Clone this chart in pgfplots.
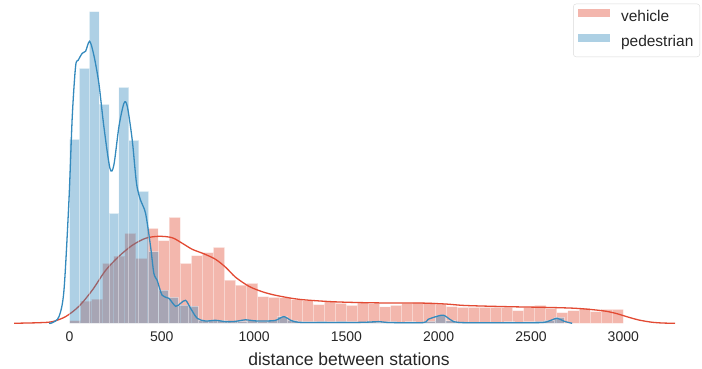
\documentclass[border=0pt]{standalone}
\usepackage{fontspec}
\setmainfont{Liberation Sans}
\usepackage{pgfplots}
\pgfplotsset{compat=1.18}
\definecolor{blueC}{HTML}{348ABD}
\definecolor{redC}{HTML}{E24A33}
\definecolor{txt}{RGB}{38,38,38}
\begin{document}
\begin{tikzpicture}
\path[use as bounding box] (0pt,-44.7pt) rectangle (702pt,323.3pt);
\begin{axis}[
  at={(0pt,0pt)}, anchor=south west,
  scale only axis, width=698pt, height=323.3pt,
  xmin=-376.5, xmax=3404.6, ymin=0, ymax=323.3,
  clip=false,
  axis line style={draw=none},
  tick style={draw=none},
  ytick=\empty,
  xtick={0,500,1000,1500,2000,2500,3000},
  xticklabels={0,500,1000,1500,2000,2500,3000},
  xticklabel style={font=\fontsize{14}{16}\selectfont, text=txt, anchor=base, yshift=-18.4pt},
  xlabel={distance between stations},
  xlabel style={at={(axis description cs:0.5,0)}, anchor=base, yshift=-42.4pt, font=\fontsize{17.5}{20}\selectfont, text=txt},
  legend style={at={(axis description cs:1.003,0.9887)}, anchor=north east, draw=black!15, rounded corners=3pt, fill=white, fill opacity=0.8, text opacity=1, inner sep=4.5pt, font=\fontsize{15.5}{18}\selectfont, text=txt, row sep=6pt, nodes={inner sep=2pt, text height=11.5pt, text depth=3.5pt}, /tikz/every odd column/.append style={column sep=9.5pt}},
  legend cell align=left,
]
% vehicle histogram
\addplot[ybar interval, fill=redC, fill opacity=0.4, draw=white, draw opacity=0.4, line width=1pt,
  legend image code/.code={\path[fill=redC, fill opacity=0.4, draw=none, sharp corners] (-2pt,0.55pt) rectangle (29.7pt,8.85pt);}]
coordinates {(0,2.7)(60,22.3)(120,24.3)(180,60)(240,67.3)(300,90)(360,65)(420,95)(480,82.6)(540,106)(600,60)(660,67.7)(720,70.7)(780,76)(840,43.3)(900,38.3)(960,40)(1020,26.7)(1080,26)(1140,25.4)(1200,23.4)(1260,22.7)(1320,18.7)(1380,22)(1440,20)(1500,18)(1560,21)(1620,19.4)(1680,16.5)(1740,18)(1800,20)(1860,20.6)(1920,20.6)(1980,19.3)(2040,16.6)(2100,16)(2160,16)(2220,16)(2280,16)(2340,16)(2400,12.6)(2460,16)(2520,18)(2580,15)(2640,10.6)(2700,12.6)(2760,15)(2820,11.6)(2880,14)(2940,14)(3000,14)};
\addlegendentry{vehicle}
% vehicle KDE
\addplot[redC, line width=1.3pt, smooth, tension=0.5, forget plot]
coordinates {(-300,0)(-230,0.3)(-166,0.6)(-94,1.6)(-21,6.7)(51,17)(123,33)(196,53)(268,67)(340,78)(412,85)(484,87)(556,85.6)(611,80)(665,74)(728,69.5)(791,64)(846,56)(900,46)(972,37)(1044,31.6)(1117,28)(1243,24)(1423,21.6)(1604,20.6)(1750,20.3)(1893,20.3)(2037,19.3)(2146,17.8)(2380,16.6)(2561,16)(2742,15)(2886,12.6)(2958,10)(3030,6)(3084,3.3)(3150,1.2)(3210,0.3)(3280,0)};
% pedestrian histogram
\addplot[ybar interval, fill=blueC, fill opacity=0.4, draw=white, draw opacity=0.4, line width=1pt,
  legend image code/.code={\path[fill=blueC, fill opacity=0.4, draw=none, sharp corners] (-2pt,0.55pt) rectangle (29.7pt,8.85pt);}]
coordinates {(0,184)(53.6,255)(107.2,311.6)(160.8,219)(214.4,110)(268,236)(321.6,183)(375.2,132)(428.8,71.6)(482.4,33.3)(536,26)(589.6,18.3)(643.2,17.3)(696.8,3)(750.4,3)(804,2.5)(857.6,2)(911.2,2)(964.8,2.5)(1018.4,2)(1072,3)(1125.6,6.5)(1179.2,3)(1232.8,1.5)(1286.4,1.5)(1340,2)(1393.6,1.5)(1447.2,2)(1500.8,1.5)(1554.4,1)(1608,1.5)(1661.6,1)(1715.2,1.5)(1768.8,1)(1822.4,1.5)(1876,1)(1929.6,2)(1983.2,8)(2036.8,2.5)(2090.4,1)(2144,1)(2197.6,1)(2251.2,1)(2304.8,1)(2358.4,1.5)(2412,1)(2465.6,1.5)(2519.2,2)(2572.8,3)(2626.4,6)(2680,6)};
\addlegendentry{pedestrian}
% pedestrian KDE
\addplot[blueC, line width=1.3pt, smooth, tension=0.5, forget plot]
coordinates {(-110,0)(-94,0.5)(-57,6.7)(-30,33)(-3,123)(15,207)(33,257)(47,263)(69,270)(87,272)(109,282)(132,268)(159,240)(186,197)(219,155)(240,158)(268,197)(295,220)(313,217)(340,183)(363,140)(385,123)(412,110)(439,77)(457,50)(475,43)(502,28)(538,25)(575,17)(602,20)(629,23)(656,15)(692,5)(737,2.3)(791,3)(846,1.7)(900,2)(954,3.5)(1000,2.5)(1060,2.3)(1117,3)(1161,6.7)(1198,3)(1243,1)(1351,0.8)(1531,0.8)(1620,1.2)(1676,1.7)(1733,0.8)(1914,0.7)(1943,4)(2000,7.5)(2028,8)(2060,4)(2082,1.6)(2150,0.6)(2400,0.6)(2560,0.8)(2600,2.5)(2642,5)(2680,2)(2723,0)};
\end{axis}
\end{tikzpicture}
\end{document}
